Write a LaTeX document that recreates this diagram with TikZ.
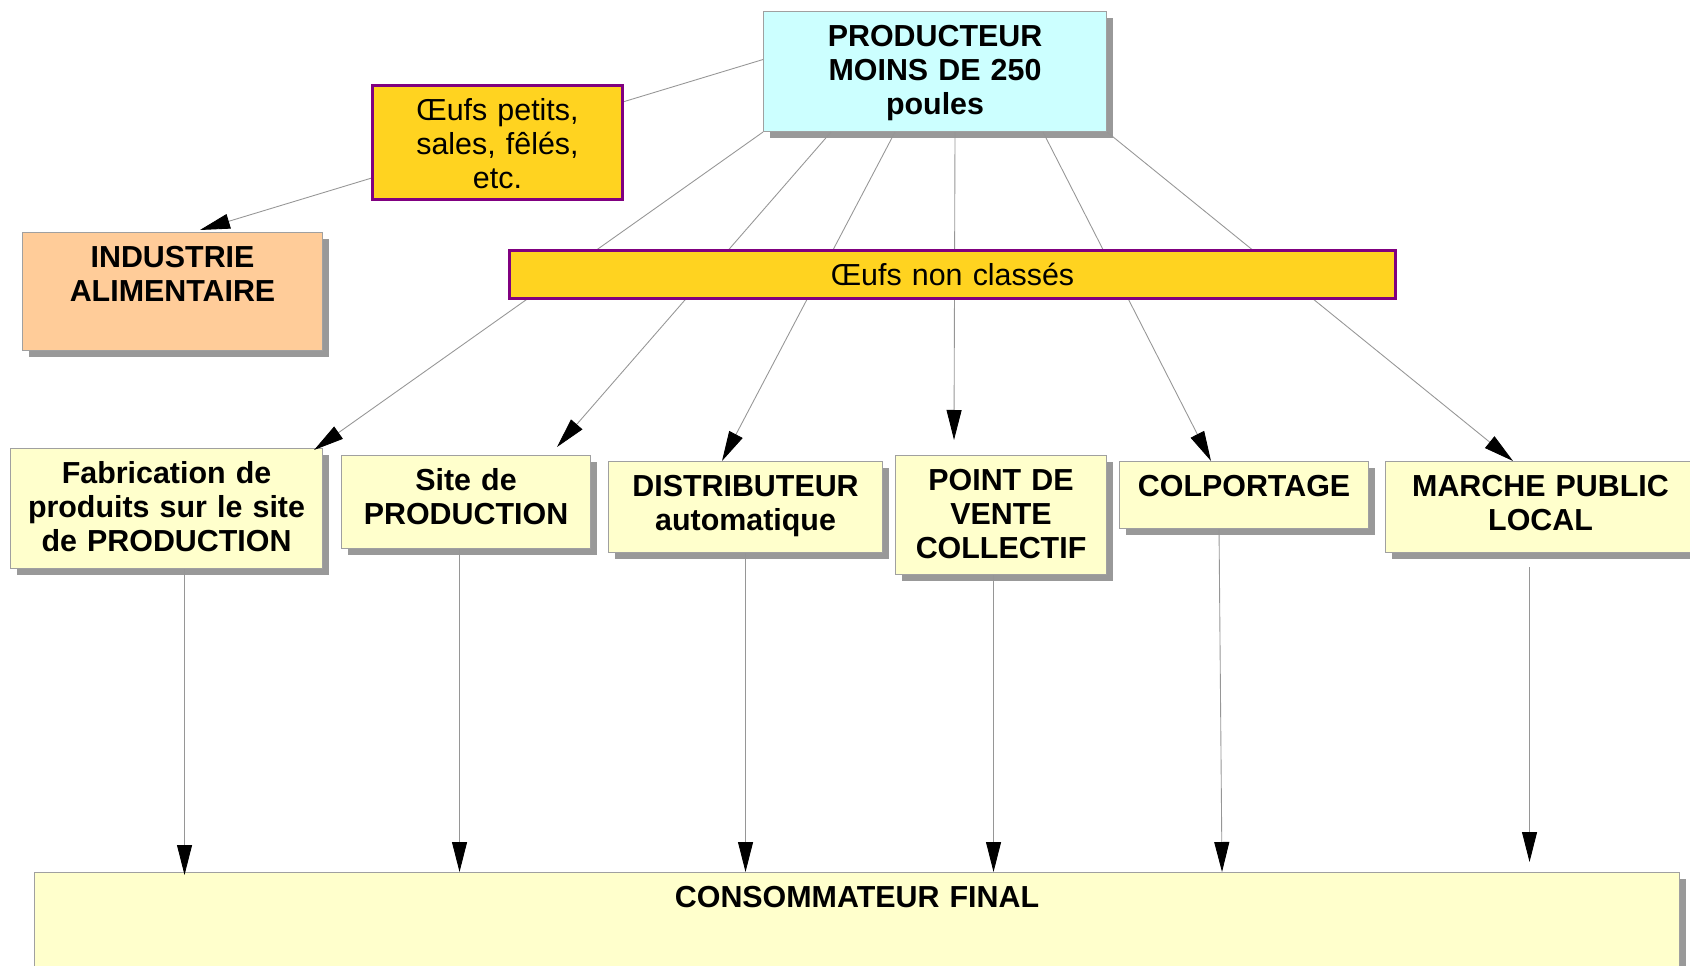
\documentclass[tikz,border=0pt]{standalone}
\usepackage{fontspec}
\setmainfont{Liberation Sans}
\definecolor{prodcyan}{RGB}{204, 255, 255}
\definecolor{eggsgold}{RGB}{255, 211, 32}
\definecolor{eggpurple}{RGB}{128, 0, 128}
\definecolor{boxyellow}{RGB}{255, 255, 204}
\definecolor{industpeach}{RGB}{255, 204, 153}
\definecolor{framegray}{RGB}{160, 160, 160}
\definecolor{shadowgray}{RGB}{153, 153, 153}
\definecolor{linkgray}{RGB}{150, 150, 150}
\usetikzlibrary{arrows.meta, shadows}

\tikzset{
  box/.style={draw=framegray, line width=0.6pt, anchor=north west, inner sep=0pt,
    align=center, text height=0.7cm, font=\fontsize{17.3}{19.4}\selectfont\bfseries,
    drop shadow={shadow xshift=0.12cm, shadow yshift=-0.12cm, fill=shadowgray, opacity=1, draw=none}},
  yellowbox/.style={box, fill=boxyellow},
  eggbox/.style={draw=eggpurple, line width=1.7pt, fill=eggsgold, anchor=north west, inner sep=0pt,
    align=center, text height=0.7cm, font=\fontsize{17.3}{19.4}\selectfont},
  sz/.style 2 args={text width=#1cm, text depth=#2cm},
  link/.style={draw=linkgray, line width=0.5pt, -{Triangle[length=0.6cm, width=0.3cm, color=black]}}
}

\begin{document}
\begin{tikzpicture}
  \useasboundingbox (0,0) rectangle (33.8,-19.32);

  % top of the chain
  \node[box, fill=prodcyan, sz={6.86}{1.70}] (prod) at (15.26,-0.22) {PRODUCTEUR\\MOINS DE 250\\poules};
  \node[box, fill=industpeach, sz={6.0}{1.66}] (indus) at (0.44,-4.64) {INDUSTRIE\\ALIMENTAIRE};

  % sales channels
  \node[yellowbox, sz={6.24}{1.70}] (fab) at (0.2,-8.96) {Fabrication de\\produits sur le site\\de PRODUCTION};
  \node[yellowbox, sz={4.98}{1.16}] (site) at (6.82,-9.10) {Site de\\PRODUCTION};
  \node[yellowbox, sz={5.48}{1.12}] (distrib) at (12.16,-9.22) {DISTRIBUTEUR\\automatique};
  \node[yellowbox, sz={4.22}{1.68}] (point) at (17.9,-9.10) {POINT DE\\VENTE\\COLLECTIF};
  \node[yellowbox, sz={4.98}{0.64}] (colp) at (22.38,-9.22) {COLPORTAGE};
  \node[yellowbox, sz={6.2}{1.12}] (marche) at (27.7,-9.22) {MARCHE PUBLIC\\LOCAL};

  \node[yellowbox, sz={32.9}{2.0}] (conso) at (0.68,-17.44) {CONSOMMATEUR FINAL};

  % producer to channels
  \draw[link] ([yshift=0.24cm]prod.west) -- ([xshift=3.56cm,yshift=0.04cm]indus.north west);
  \draw[link] (prod.south west) -- ([xshift=-0.18cm,yshift=-0.04cm]fab.north east);
  \draw[link] ([xshift=1.36cm]prod.south west) -- ([xshift=-0.68cm,yshift=0.16cm]site.north east);
  \draw[link] ([xshift=2.64cm]prod.south west) -- ([xshift=2.28cm]distrib.north west);
  \draw[link] ([xshift=3.84cm]prod.south west) -- ([xshift=1.18cm,yshift=0.3cm]point.north west);
  \draw[link] ([xshift=5.6cm]prod.south west) -- ([xshift=1.84cm]colp.north west);
  \draw[link] (prod.south east) -- ([xshift=2.56cm]marche.north west);

  % channels to consumer
  \draw[link] ([xshift=0.36cm]fab.south) -- ([xshift=0.36cm,yshift=-0.06cm]fab.south |- conso.north);
  \draw[link] ([xshift=-0.13cm]site.south) -- ([xshift=-0.13cm]site.south |- conso.north);
  \draw[link] (distrib.south) -- (distrib.south |- conso.north);
  \draw[link] ([xshift=-0.15cm]point.south) -- ([xshift=-0.15cm]point.south |- conso.north);
  \draw[link] ([xshift=-0.5cm]colp.south) -- ([xshift=-0.44cm]colp.south |- conso.north);
  \draw[link] ([xshift=-0.22cm,yshift=-0.28cm]marche.south) -- ([xshift=-0.22cm,yshift=0.2cm]marche.south |- conso.north);

  % egg labels on top of the lines
  \node[eggbox, sz={5.0}{1.59}] (petits) at (7.42,-1.68) {Œufs petits,\\sales, fêlés,\\etc.};
  \node[eggbox, sz={17.72}{0.26}] (nonclass) at (10.16,-4.98) {Œufs non classés};
\end{tikzpicture}
\end{document}
